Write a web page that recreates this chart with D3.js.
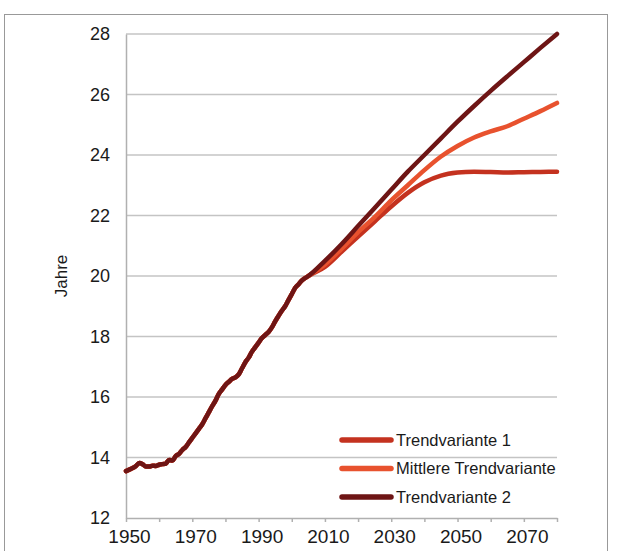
<!DOCTYPE html>
<html>
<head>
<meta charset="utf-8">
<script src="https://cdn.jsdelivr.net/npm/d3@7"></script>
<style>
  body { margin: 0; background: #fff; }
  svg { display: block; font-family: "Liberation Sans", Arial, sans-serif; }
</style>
</head>
<body>
<div id="chart"></div>
<script>
// shared history (all variants identical)
const histYears = [1950,1951,1952,1953,1954,1955,1956,1957,1958,1959,1960,1961,1962,1963,1964,1965,1966,1967,1968,1969,
  1970,1971,1972,1973,1974,1975,1976,1977,1978,1979,1980,1981,1982,1983,1984,1985,1986,1987,1988,1989,
  1990,1991,1992,1993,1994,1995,1996,1997,1998,1999,2000,2001,2002,2003,2004,2005];
const histValues = [13.55,13.6,13.65,13.72,13.82,13.78,13.7,13.7,13.73,13.72,13.76,13.78,13.8,13.92,13.9,14.05,14.12,14.25,14.35,14.5,
  14.65,14.8,14.95,15.1,15.3,15.5,15.7,15.88,16.1,16.25,16.4,16.5,16.6,16.65,16.75,16.95,17.15,17.3,17.5,17.65,
  17.8,17.95,18.05,18.15,18.3,18.5,18.68,18.85,19.0,19.2,19.4,19.6,19.72,19.85,19.93,20.0];

// projections
const projYears = [2010,2015,2020,2025,2030,2035,2040,2045,2050,2055,2060,2065,2070,2075,2080];
const trend1 = [20.3,20.8,21.3,21.8,22.3,22.75,23.1,23.32,23.42,23.45,23.44,23.42,23.43,23.44,23.45];
const mittel = [20.38,20.9,21.45,21.95,22.5,23.0,23.5,23.95,24.3,24.58,24.78,24.95,25.2,25.45,25.72];
const trend2 = [20.5,21.05,21.65,22.25,22.85,23.45,24.0,24.55,25.1,25.62,26.12,26.6,27.07,27.54,28.0];

const seriesNames = ["Trendvariante 1", "Mittlere Trendvariante", "Trendvariante 2"];
const seriesColors = ["#c4321f", "#e8522e", "#6e1515"];
const yTicks = [12,14,16,18,20,22,24,26,28];
const xLabels = [1950,1970,1990,2010,2030,2050,2070];

const width = 618, height = 551;
const x = d3.scaleLinear().domain([1950, 2080]).range([126, 557]);
const y = d3.scaleLinear().domain([12, 28]).range([518, 34]);

const svg = d3.select("#chart").append("svg")
  .attr("width", width).attr("height", height);

// outer frame
svg.append("rect")
  .attr("x", 4.5).attr("y", 14.5).attr("width", 603).attr("height", 560)
  .attr("fill", "none").attr("stroke", "#999");

// gridlines
svg.append("g")
  .selectAll("line")
  .data(yTicks.filter(d => d > 12))
  .join("line")
  .attr("x1", x(1950)).attr("x2", x(2080))
  .attr("y1", d => y(d)).attr("y2", d => y(d))
  .attr("stroke", "#c4c4c4").attr("stroke-width", 1.5);

// y axis
const yAxis = svg.append("g")
  .attr("transform", `translate(${x(1950)},0)`)
  .call(d3.axisLeft(y).tickValues(yTicks).tickSize(0).tickPadding(16));
yAxis.select(".domain").attr("stroke", "#b0b0b0").attr("stroke-width", 1.5);
yAxis.selectAll("text").attr("font-size", 18).attr("fill", "#1a1a1a");

// x axis
const xAxis = svg.append("g")
  .attr("transform", `translate(0,${y(12)})`)
  .call(d3.axisBottom(x).tickValues(d3.range(1950, 2081, 10)).tickSize(4).tickSizeOuter(0)
    .tickFormat(d => xLabels.includes(d) ? d : ""));
xAxis.select(".domain").attr("stroke", "#b0b0b0").attr("stroke-width", 1.5);
xAxis.selectAll("line").attr("stroke", "#b0b0b0").attr("stroke-width", 1.5);
xAxis.selectAll("text").attr("font-size", 19).attr("fill", "#1a1a1a").attr("dy", "0.95em").attr("dx", 3);

// y title
svg.append("text")
  .attr("transform", `translate(67,${y(20)}) rotate(-90)`)
  .attr("text-anchor", "middle")
  .attr("font-size", 17).attr("fill", "#1a1a1a")
  .text("Jahre");

// lines
const allSeries = [trend1, mittel, trend2].map((proj, i) => ({
  name: seriesNames[i],
  color: seriesColors[i],
  values: histYears.map((yr, j) => [yr, histValues[j]])
    .concat(projYears.map((yr, j) => [yr, proj[j]]))
}));

const line = d3.line()
  .x(d => x(d[0])).y(d => y(d[1]))
  .curve(d3.curveMonotoneX);

svg.append("g")
  .selectAll("path")
  .data(allSeries)
  .join("path")
  .attr("d", d => line(d.values))
  .attr("fill", "none")
  .attr("stroke", d => d.color)
  .attr("stroke-width", 4.5)
  .attr("stroke-linejoin", "round")
  .attr("stroke-linecap", "round");

// legend
const legend = svg.append("g")
  .selectAll("g")
  .data(allSeries)
  .join("g")
  .attr("transform", (d, i) => `translate(342,${440 + i * 28.5})`);

legend.append("line")
  .attr("x1", 0).attr("x2", 49)
  .attr("stroke", d => d.color)
  .attr("stroke-width", 5.5)
  .attr("stroke-linecap", "round");

legend.append("text")
  .attr("x", 54).attr("dy", "0.36em")
  .attr("font-size", 16.5).attr("fill", "#1a1a1a")
  .text(d => d.name);
</script>
</body>
</html>
